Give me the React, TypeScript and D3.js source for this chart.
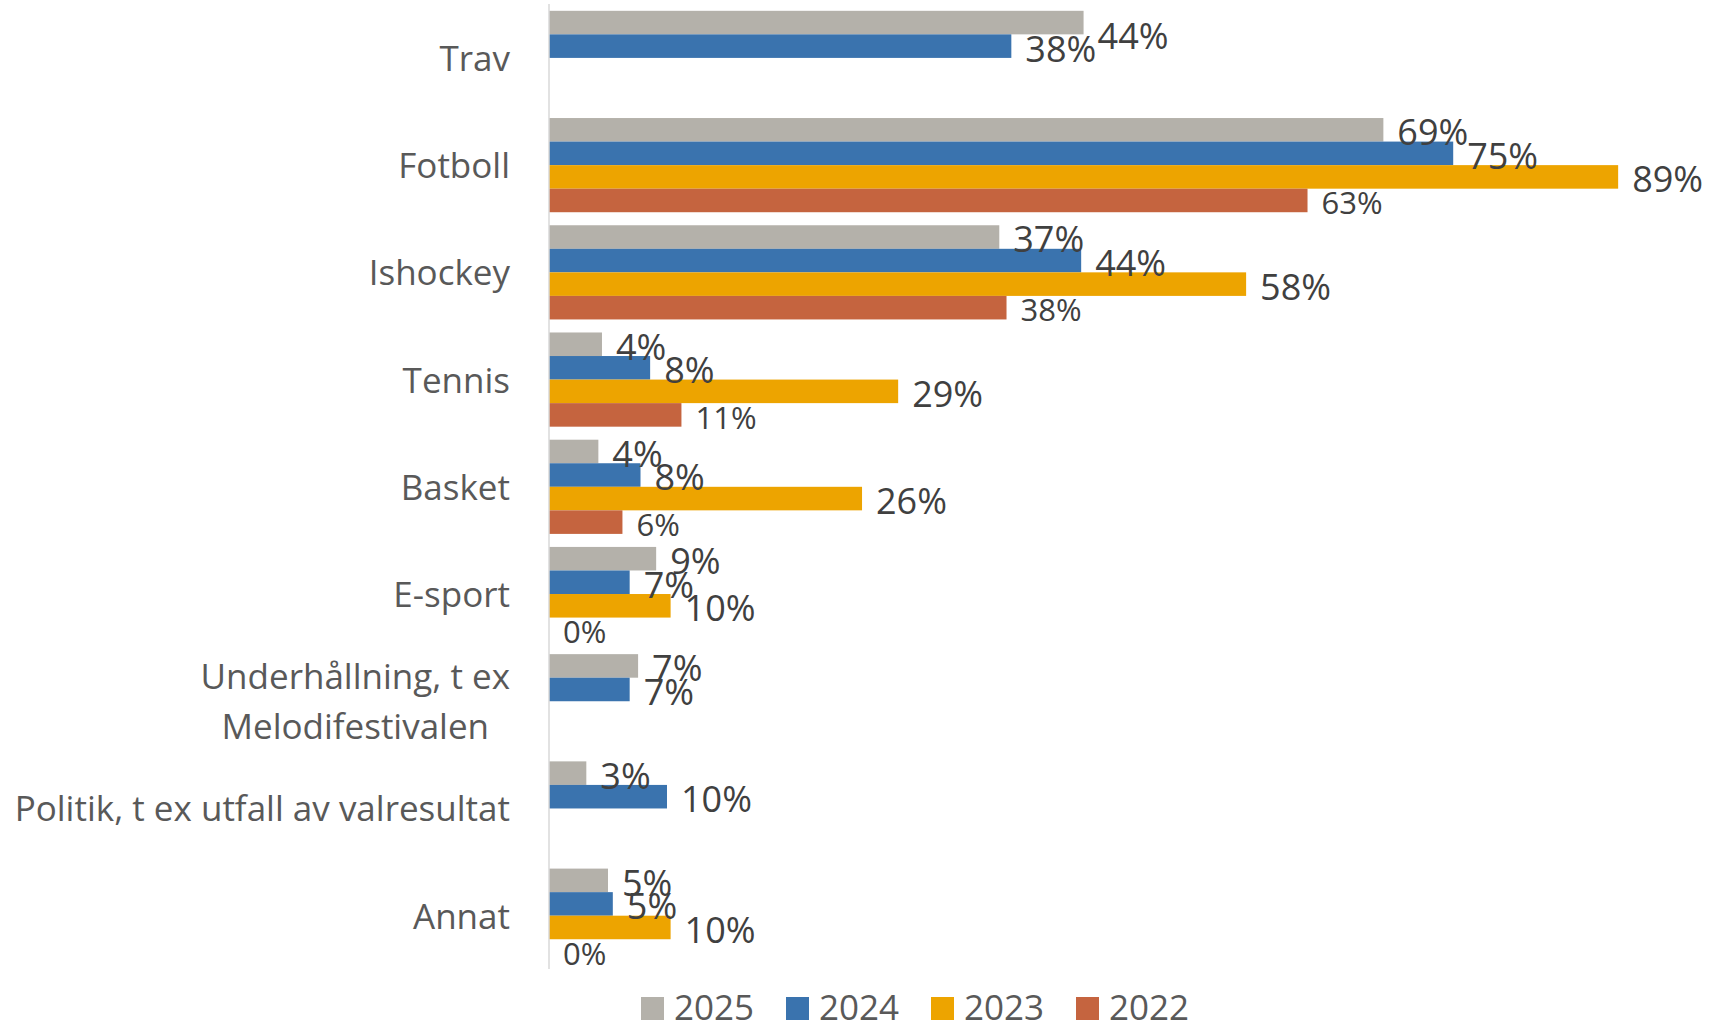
import React, { useLayoutEffect, useRef, useState } from 'react';
import { scaleBand, scaleLinear, format } from 'd3';

const categories = [
  'Trav',
  'Fotboll',
  'Ishockey',
  'Tennis',
  'Basket',
  'E-sport',
  'Underhållning, t ex Melodifestivalen',
  'Politik, t ex utfall av valresultat',
  'Annat',
];
const years = ['2025', '2024', '2023', '2022'];

const v2025 = [0.444, 0.693, 0.374, 0.044, 0.041, 0.089, 0.074, 0.031, 0.049];
const v2024 = [0.384, 0.751, 0.442, 0.084, 0.076, 0.067, 0.067, 0.098, 0.053];
const v2023 = [null, 0.888, 0.579, 0.29, 0.26, 0.101, null, null, 0.101];
const v2022 = [null, 0.63, 0.38, 0.11, 0.061, 0, null, null, 0];

const seriesValues: (number | null)[][] = [v2025, v2024, v2023, v2022];
const colors = ['#b4b1aa', '#3a73ae', '#eda400', '#c5643f'];

const FONT = "'Open Sans', 'Noto Sans', sans-serif";
const W = 1711;
const H = 1024;

// the Trav 2025 label sits a little lower in the original
const labelNudge: Record<string, number> = { 'Trav-2025': 11 };

const App = () => {
  const line1Ref = useRef<SVGTextElement>(null);
  const [line1W, setLine1W] = useState(0);

  useLayoutEffect(() => {
    if (line1Ref.current) setLine1W(line1Ref.current.getComputedTextLength());
  }, []);

  const axisX = 549;
  const x = scaleLinear().domain([0, 1]).range([axisX, axisX + 1204]);
  const y = scaleBand<string>()
    .domain(categories)
    .range([4.3, 969.3])
    .paddingInner(0.1215)
    .paddingOuter(0.0607);
  const yInner = scaleBand<string>().domain(years).range([0, y.bandwidth()]);
  const pct = format('.0%');

  const labelRight = 510;

  const bars = categories.flatMap((c, i) =>
    years.map((yr, s) => {
      const v = seriesValues[s][i];
      if (v === null) return null;
      return (
        <rect
          key={c + yr}
          x={x(0)}
          y={(y(c) ?? 0) + (yInner(yr) ?? 0)}
          width={x(v) - x(0)}
          height={yInner.bandwidth()}
          fill={colors[s]}
        />
      );
    })
  );

  const labels = categories.flatMap((c, i) =>
    years.map((yr, s) => {
      const v = seriesValues[s][i];
      if (v === null) return null;
      const small = yr === '2022';
      const fs = small ? 31 : 36;
      const cy = (y(c) ?? 0) + (yInner(yr) ?? 0) + yInner.bandwidth() / 2;
      const nudge = labelNudge[c + '-' + yr] ?? 0;
      return (
        <text
          key={'l' + c + yr}
          x={x(v) + 14}
          y={cy + 2.6 + fs * 0.357 + nudge}
          fontSize={fs}
          fill="#404040"
        >
          {pct(v)}
        </text>
      );
    })
  );

  const catLabels = categories.map((c) => {
    const cy = (y(c) ?? 0) + y.bandwidth() / 2;
    if (c.startsWith('Underhållning')) {
      return (
        <g key={c}>
          <text ref={line1Ref} x={labelRight} y={cy - 25 + 13} textAnchor="end">
            Underhållning, t ex
          </text>
          <text x={labelRight - line1W / 2} y={cy + 25 + 13} textAnchor="middle">
            Melodifestivalen
          </text>
        </g>
      );
    }
    return (
      <text key={c} x={labelRight} y={cy + 13} textAnchor="end">
        {c}
      </text>
    );
  });

  const legendX = scaleLinear().domain([0, 1]).range([641, 786]);

  return (
    <svg
      width={W}
      height={H}
      viewBox={`0 0 ${W} ${H}`}
      style={{ position: 'absolute', left: 0, top: 0, background: '#fff' }}
      fontFamily={FONT}
    >
      {bars}
      <line x1={axisX} x2={axisX} y1={4} y2={969} stroke="#d9d9d9" strokeWidth={1.5} />
      <g fontSize={35} fill="#595959">
        {catLabels}
      </g>
      {labels}
      <g fontSize={35} fill="#595959">
        {years.map((yr, s) => (
          <g key={yr} transform={`translate(${legendX(s)},997)`}>
            <rect width={23} height={23} fill={colors[s]} />
            <text x={33} y={23}>
              {yr}
            </text>
          </g>
        ))}
      </g>
    </svg>
  );
};

export default App;
